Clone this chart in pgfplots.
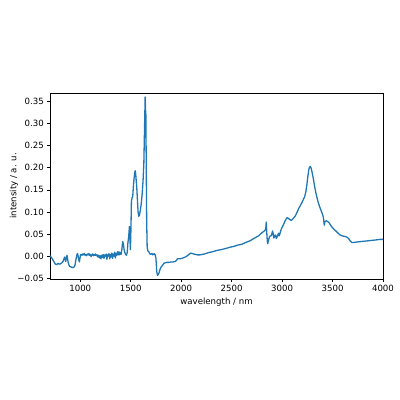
\documentclass[border=0pt]{standalone}
\usepackage{pgfplots}
\pgfplotsset{compat=1.18}
\usepackage{fontspec}
\setmainfont{DejaVu Sans}
\definecolor{tabblue}{HTML}{1F77B4}
\begin{document}
\begin{tikzpicture}[font=\fontsize{8.6}{10.3}\selectfont]
\useasboundingbox (0,0) rectangle (400pt,400pt);
\begin{axis}[
  at={(50pt,121pt)}, anchor=south west,
  width=333pt, height=186pt, scale only axis,
  xmin=700, xmax=4000, ymin=-0.0516, ymax=0.369,
  xtick={1000,1500,2000,2500,3000,3500,4000},
  xticklabels={1000,1500,2000,2500,3000,3500,4000},
  ytick={-0.05,0,0.05,0.1,0.15,0.2,0.25,0.3,0.35},
  yticklabels={−0.05,0.00,0.05,0.10,0.15,0.20,0.25,0.30,0.35},
  tick align=outside, major tick length=3pt,
  tick style={line width=0.69pt, color=black},
  xtick pos=bottom, ytick pos=left,
  axis line style={line width=0.69pt},
  xticklabel style={inner sep=0pt, yshift=-3pt},
  yticklabel style={inner sep=0pt, xshift=-3pt},
  xlabel={wavelength / nm}, ylabel={intensity / a. u.},
  xlabel style={inner sep=0pt, yshift=-6pt},
  ylabel style={inner sep=0pt, yshift=-1pt},
  clip=true,
]
\addplot[color=tabblue, line width=1.3pt, line join=round] coordinates {
(700,0.001) (710,-0.002) (720,-0.005) (730,-0.009) (740,-0.013) (750,-0.017)
(762,-0.019) (772,-0.018) (780,-0.016) (792,-0.018) (806,-0.017) (818,-0.015)
(829,-0.012) (838,-0.006) (846,-0.002) (851,-0.008) (856,-0.012) (862,-0.004)
(869,0.002) (874,-0.006) (880,-0.014) (888,-0.020) (895,-0.023) (905,-0.024)
(915,-0.025) (928,-0.026) (940,-0.024) (948,-0.020) (955,-0.010) (962,-0.002)
(968,0.004) (973,0.006) (978,0.001) (985,-0.008) (991,-0.013) (996,-0.006)
(1002,0.003) (1010,0.004) (1018,0.002) (1025,0.005) (1032,0.003) (1040,0.006)
(1047,0.002) (1055,0.004) (1062,0.001) (1070,0.005) (1077,0.003) (1085,0.006)
(1092,0.002) (1100,0.004) (1107,-0.001) (1115,0.003) (1122,0.005) (1130,0.001)
(1137,0.004) (1145,0.002) (1152,0.005) (1160,0.001) (1167,0.003) (1175,-0.002)
(1182,0.002) (1190,-0.004) (1197,0.001) (1205,-0.006) (1212,0.002) (1220,-0.003)
(1227,0.004) (1235,-0.005) (1242,0.003) (1250,0.000) (1257,0.005) (1264,-0.007)
(1271,0.003) (1278,0.000) (1285,0.006) (1292,-0.006) (1299,0.004) (1306,-0.002)
(1313,0.007) (1320,-0.005) (1327,0.005) (1334,0.000) (1341,0.009) (1348,-0.004)
(1355,0.006) (1362,0.002) (1369,0.010) (1376,0.003) (1383,0.010) (1390,0.003)
(1397,0.008) (1404,0.004) (1412,0.015) (1420,0.033) (1427,0.028) (1434,0.015)
(1442,0.008) (1450,0.004) (1457,0.002) (1465,0.008) (1472,0.030) (1480,0.045)
(1487,0.067) (1492,0.040) (1497,0.015) (1502,0.060) (1507,0.125) (1514,0.132)
(1520,0.135) (1527,0.160) (1533,0.175) (1540,0.190) (1546,0.193) (1553,0.175)
(1560,0.155) (1567,0.125) (1573,0.100) (1580,0.090) (1587,0.093) (1596,0.105)
(1605,0.120) (1613,0.140) (1622,0.170) (1630,0.210) (1637,0.290) (1643,0.360)
(1647,0.330) (1650,0.320) (1654,0.200) (1658,0.080) (1663,0.020) (1670,0.012)
(1679,0.010) (1690,0.005) (1699,0.004) (1710,0.006) (1720,0.003) (1732,0.006)
(1742,0.003) (1750,-0.005) (1758,-0.035) (1765,-0.043) (1772,-0.042) (1780,-0.038)
(1790,-0.030) (1800,-0.025) (1810,-0.022) (1820,-0.019) (1830,-0.016) (1841,-0.015)
(1860,-0.014) (1880,-0.014) (1900,-0.013) (1920,-0.013) (1940,-0.012) (1952,-0.010)
(1963,-0.006) (1985,-0.006) (2006,-0.005) (2030,-0.003) (2056,0.000) (2076,0.004)
(2096,0.007) (2110,0.006) (2139,0.004) (2160,0.003) (2188,0.003) (2230,0.005)
(2271,0.008) (2310,0.010) (2354,0.013) (2400,0.015) (2436,0.017) (2480,0.020)
(2519,0.022) (2560,0.025) (2602,0.027) (2640,0.031) (2684,0.035) (2720,0.040)
(2767,0.046) (2800,0.053) (2830,0.058) (2838,0.062) (2843,0.077) (2848,0.055)
(2853,0.035) (2858,0.028) (2865,0.036) (2875,0.044) (2885,0.046) (2893,0.046)
(2900,0.052) (2906,0.057) (2912,0.050) (2918,0.041) (2925,0.044) (2932,0.048)
(2937,0.047) (2943,0.040) (2950,0.043) (2958,0.048) (2965,0.052) (2972,0.046)
(2980,0.052) (2990,0.060) (3000,0.065) (3015,0.072) (3030,0.080) (3048,0.087)
(3060,0.086) (3075,0.083) (3091,0.081) (3110,0.085) (3131,0.091) (3150,0.100)
(3165,0.108) (3180,0.114) (3200,0.123) (3223,0.134) (3235,0.145) (3246,0.162)
(3255,0.180) (3264,0.195) (3272,0.201) (3280,0.203) (3288,0.199) (3297,0.190)
(3310,0.175) (3322,0.158) (3338,0.140) (3355,0.124) (3375,0.110) (3395,0.098)
(3405,0.092) (3412,0.083) (3418,0.070) (3424,0.078) (3438,0.080) (3455,0.078)
(3468,0.075) (3490,0.067) (3510,0.062) (3528,0.058) (3550,0.053) (3575,0.048)
(3594,0.046) (3615,0.045) (3633,0.044) (3650,0.042) (3665,0.038) (3676,0.034)
(3690,0.031) (3709,0.031) (3740,0.032) (3780,0.033) (3820,0.034) (3860,0.035)
(3900,0.036) (3940,0.037) (3970,0.038) (4000,0.038)
};
\end{axis}
\end{tikzpicture}
\end{document}
